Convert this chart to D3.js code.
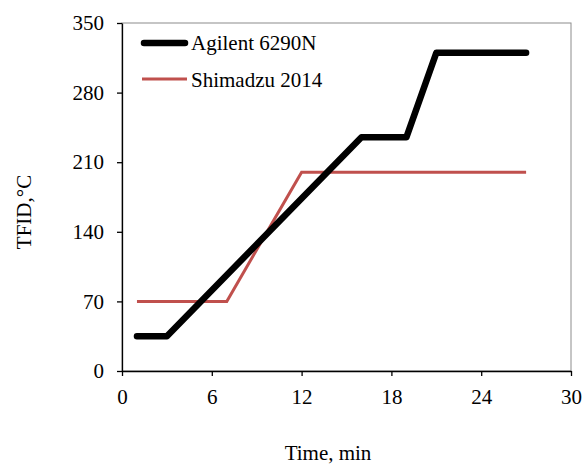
<!DOCTYPE html>
<html><head><meta charset="utf-8">
<script src="https://cdn.jsdelivr.net/npm/d3@7"></script>
<style>body{margin:0;background:#fff}svg{display:block}text{font-family:"Liberation Serif","Times New Roman",serif;fill:#000}</style>
</head><body>
<svg id="c" width="586" height="464"></svg>
<script>
const seriesNames = ["Agilent 6290N", "Shimadzu 2014"];
const agilentTime = [1, 3, 16, 19, 21, 27];
const agilentTemp = [35, 35, 235, 235, 320, 320];
const shimadzuTime = [1, 7, 12, 27];
const shimadzuTemp = [70, 70, 200, 200];
const xTicks = [0, 6, 12, 18, 24, 30];
const yTicks = [0, 70, 140, 210, 280, 350];
const xTitle = "Time, min";
const yTitle = "TFID,\u00B0C";

const FS = "21px";
const svg = d3.select("#c");
const L = 122, R = 571, T = 23, B = 371;
const x = d3.scaleLinear().domain([0, 30]).range([L, R]);
const y = d3.scaleLinear().domain([0, 350]).range([B, T]);

// frame
svg.append("rect").attr("x", L).attr("y", T).attr("width", R - L).attr("height", B - T)
  .attr("fill", "none").attr("stroke", "#8c8c8c").attr("stroke-width", 1);

const xa = svg.append("g").attr("transform", `translate(0,${B})`)
  .call(d3.axisBottom(x).tickValues(xTicks).tickSize(5).tickSizeOuter(0).tickPadding(13));
const ya = svg.append("g").attr("transform", `translate(${L},0)`)
  .call(d3.axisLeft(y).tickValues(yTicks).tickSize(5).tickSizeOuter(0).tickPadding(13));
[xa, ya].forEach(a => {
  a.selectAll("path,line").attr("stroke", "#000").attr("stroke-width", 1.3);
  a.selectAll("text").style("font-size", FS).style("font-family", "Liberation Serif, serif");
});

const line = d3.line().x(d => x(d[0])).y(d => y(d[1]));
const agData = agilentTime.map((t, i) => [t, agilentTemp[i]]);
const shData = shimadzuTime.map((t, i) => [t, shimadzuTemp[i]]);

svg.append("path").datum(shData).attr("d", line).attr("fill", "none")
  .attr("stroke", "#C0504D").attr("stroke-width", 3);
svg.append("path").datum(agData).attr("d", line).attr("fill", "none")
  .attr("stroke", "#000").attr("stroke-width", 6.5).attr("stroke-linecap", "round").attr("stroke-linejoin", "round");

// legend
const lg = svg.append("g");
lg.append("line").attr("x1", 144).attr("x2", 185).attr("y1", 43).attr("y2", 43)
  .attr("stroke", "#000").attr("stroke-width", 6.5).attr("stroke-linecap", "round");
lg.append("text").attr("x", 191).attr("y", 50).style("font-size", FS).text(seriesNames[0]);
lg.append("line").attr("x1", 142).attr("x2", 187).attr("y1", 79).attr("y2", 79)
  .attr("stroke", "#C0504D").attr("stroke-width", 3);
lg.append("text").attr("x", 191).attr("y", 87).style("font-size", FS).text(seriesNames[1]);

svg.append("text").attr("x", 328).attr("y", 460).attr("text-anchor", "middle")
  .style("font-size", FS).text(xTitle);
svg.append("text").attr("transform", `translate(31,212) rotate(-90)`).attr("text-anchor", "middle")
  .style("font-size", FS).text(yTitle);
</script>
</body></html>
